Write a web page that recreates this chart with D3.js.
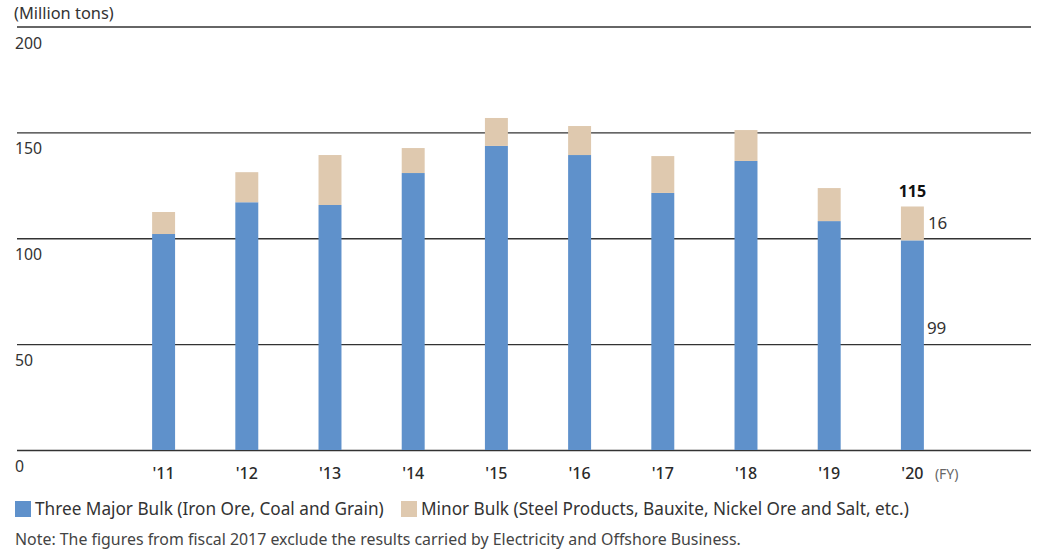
<!doctype html>
<html lang='en'>
<head>
    <meta charset='UTF-8'>
    <title>Dry Bulk Cargo Volume</title>
    <style>
        body{
            margin: 0;
            background: #fff;
        }
        svg text{
            font-family: 'Noto Sans', Lato, sans-serif;
            fill: #2a2a2a;
        }
        .grid line{
            stroke: #333;
            stroke-width: 1.3px;
        }
        .grid path{
            display: none;
        }
        .ytick{
            font-size: 15.8px;
            fill: #333;
        }
        .xtick{
            font-size: 16px;
            font-weight: 500;
        }
        .legend text{
            font-size: 17.2px;
            fill: #333;
        }
        .note{
            font-size: 15.9px;
            fill: #444;
        }
    </style>
</head>
<body>
<script src='https://d3js.org/d3.v7.min.js'></script>
<script>
  const years = ["'11", "'12", "'13", "'14", "'15", "'16", "'17", "'18", "'19", "'20"]
  const majorBulk = [102, 117, 115.7, 130.8, 143.6, 139.3, 121.4, 136.5, 108.1, 99]
  const minorBulk = [10.4, 14.2, 23.6, 11.8, 13.2, 13.7, 17.4, 14.6, 15.6, 16]
  const yTicks = [0, 50, 100, 150, 200]
  const seriesNames = ['Three Major Bulk (Iron Ore, Coal and Grain)', 'Minor Bulk (Steel Products, Bauxite, Nickel Ore and Salt, etc.)']
  const colors = ['#5f91cb', '#dfc9af']

  const width = 1042
  const height = 552
  const gridLeft = 17
  const gridRight = 1031

  const dataset = years.map((y, i) => ({year: y, major: majorBulk[i], minor: minorBulk[i]}))

  const xScale = d3.scaleBand()
    .domain(years)
    .range([122, 954])
    .paddingInner(0.724)
    .paddingOuter(0.362)

  const yScale = d3.scaleLinear()
    .domain([0, 200])
    .range([450, 26.5])

  const stack = d3.stack().keys(['major', 'minor'])
  const layers = stack(dataset)

  const svg = d3.select('body')
    .append('svg')
    .attr('width', width)
    .attr('height', height)

  // gridlines
  const yAxis = d3.axisLeft(yScale)
    .tickValues(yTicks)
    .tickSizeInner(-(gridRight - gridLeft))
    .tickSizeOuter(0)
    .tickFormat('')

  svg.append('g')
    .attr('class', 'grid')
    .attr('transform', `translate(${gridLeft}, 0)`)
    .call(yAxis)

  // y tick labels sit under each line
  svg.append('g')
    .selectAll('text')
    .data(yTicks)
    .join('text')
    .attr('class', 'ytick')
    .attr('x', 15)
    .attr('y', d => yScale(d) + 22)
    .text(d => d)

  svg.append('text')
    .attr('class', 'ytick')
    .attr('x', 14)
    .attr('y', 19)
    .style('font-size', '16.4px')
    .text('(Million tons)')

  // bars
  svg.append('g')
    .selectAll('g')
    .data(layers)
    .join('g')
    .attr('fill', (d, i) => colors[i])
    .selectAll('rect')
    .data(d => d)
    .join('rect')
    .attr('x', d => xScale(d.data.year))
    .attr('y', d => yScale(d[1]))
    .attr('width', xScale.bandwidth())
    .attr('height', d => yScale(d[0]) - yScale(d[1]))

  // x labels
  const xAxis = d3.axisBottom(xScale)
    .tickSize(0)
    .tickPadding(0)
  const xg = svg.append('g')
    .attr('transform', 'translate(0, 479)')
    .call(xAxis)
  xg.select('.domain').remove()
  xg.selectAll('text')
    .attr('class', 'xtick')
    .attr('dy', 0)
    .attr('fill', null)
    .attr('font-family', null)
    .attr('font-size', null)

  const lastYear = years[years.length - 1]
  const last = dataset[dataset.length - 1]
  const lx = xScale(lastYear)
  const bw = xScale.bandwidth()

  svg.append('text')
    .attr('x', lx + bw + 11)
    .attr('y', 479)
    .attr('font-size', 14)
    .style('fill', '#666')
    .text('(FY)')

  // labels on the last bar
  svg.append('text')
    .attr('x', lx + bw / 2)
    .attr('y', yScale(last.major + last.minor) - 9)
    .attr('text-anchor', 'middle')
    .attr('font-size', 16)
    .attr('font-weight', 700)
    .style('fill', '#111')
    .text(Math.round(last.major + last.minor))

  svg.append('text')
    .attr('x', lx + bw + 4)
    .attr('y', yScale(last.major + last.minor / 2) + 6)
    .attr('font-size', 17)
    .style('fill', '#333')
    .text(last.minor)

  svg.append('text')
    .attr('x', lx + bw + 3)
    .attr('y', yScale(last.major * 0.58) + 6)
    .attr('font-size', 17)
    .style('fill', '#333')
    .text(last.major)

  // legend
  const legend = svg.append('g').attr('class', 'legend')
  const legendX = [15, 401]
  seriesNames.forEach((name, i) => {
    legend.append('rect')
      .attr('x', legendX[i])
      .attr('y', 501)
      .attr('width', 16)
      .attr('height', 16)
      .attr('fill', colors[i])
    legend.append('text')
      .attr('x', legendX[i] + 20)
      .attr('y', 514.5)
      .text(name)
  })

  svg.append('text')
    .attr('class', 'note')
    .attr('x', 15)
    .attr('y', 545)
    .text('Note: The figures from fiscal 2017 exclude the results carried by Electricity and Offshore Business.')
</script>
</body>
</html>
